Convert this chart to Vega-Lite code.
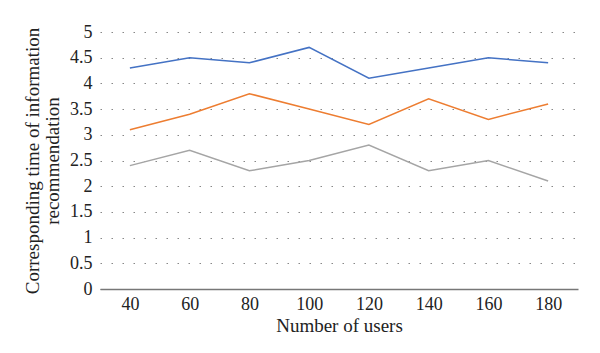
{
  "$schema": "https://vega.github.io/schema/vega-lite/v6.json",
  "width": 478,
  "height": 257,
  "autosize": {"type": "none"},
  "padding": {"left": 100, "top": 32, "right": 22, "bottom": 64},
  "background": "white",
  "config": {
    "view": {"stroke": null},
    "font": "Liberation Serif",
    "axis": {"labelFont": "Liberation Serif", "titleFont": "Liberation Serif"}
  },
  "data": {"values": [
    {"users": 40, "series": "A", "value": 4.3},
    {"users": 60, "series": "A", "value": 4.5},
    {"users": 80, "series": "A", "value": 4.4},
    {"users": 100, "series": "A", "value": 4.7},
    {"users": 120, "series": "A", "value": 4.1},
    {"users": 140, "series": "A", "value": 4.3},
    {"users": 160, "series": "A", "value": 4.5},
    {"users": 180, "series": "A", "value": 4.4},
    {"users": 40, "series": "B", "value": 3.1},
    {"users": 60, "series": "B", "value": 3.4},
    {"users": 80, "series": "B", "value": 3.8},
    {"users": 100, "series": "B", "value": 3.5},
    {"users": 120, "series": "B", "value": 3.2},
    {"users": 140, "series": "B", "value": 3.7},
    {"users": 160, "series": "B", "value": 3.3},
    {"users": 180, "series": "B", "value": 3.6},
    {"users": 40, "series": "C", "value": 2.4},
    {"users": 60, "series": "C", "value": 2.7},
    {"users": 80, "series": "C", "value": 2.3},
    {"users": 100, "series": "C", "value": 2.5},
    {"users": 120, "series": "C", "value": 2.8},
    {"users": 140, "series": "C", "value": 2.3},
    {"users": 160, "series": "C", "value": 2.5},
    {"users": 180, "series": "C", "value": 2.1}
  ]},
  "mark": {"type": "line", "strokeWidth": 1.5},
  "encoding": {
    "x": {
      "field": "users", "type": "ordinal",
      "scale": {"paddingOuter": 0.5},
      "axis": {
        "title": "Number of users", "titleFont": "Liberation Serif", "titleFontSize": 19,
        "titleFontWeight": "normal", "titleColor": "#222", "titlePadding": 3,
        "labelAngle": 0, "labelFont": "Liberation Serif", "labelFontSize": 18, "labelColor": "#222", "labelPadding": 6,
        "ticks": false, "domainColor": "#777", "domainWidth": 1.5, "grid": false
      }
    },
    "y": {
      "field": "value", "type": "quantitative",
      "scale": {"domain": [0, 5], "nice": false},
      "axis": {
        "title": ["Corresponding time of information", "recommendation"],
        "titleFont": "Liberation Serif", "titleFontSize": 19, "titleFontWeight": "normal",
        "titleColor": "#222", "titlePadding": 7, "titleLineHeight": 20,
        "values": [0, 0.5, 1, 1.5, 2, 2.5, 3, 3.5, 4, 4.5, 5], "format": "~g",
        "labelFont": "Liberation Serif", "labelFontSize": 18, "labelColor": "#222", "labelPadding": 8,
        "ticks": false, "domain": false,
        "grid": true, "gridDash": [1.5, 9.5], "gridColor": "#888", "gridWidth": 1.2
      }
    },
    "color": {
      "field": "series", "type": "nominal",
      "scale": {"domain": ["A", "B", "C"], "range": ["#4472C4", "#ED7D31", "#A5A5A5"]},
      "legend": null
    }
  }
}
